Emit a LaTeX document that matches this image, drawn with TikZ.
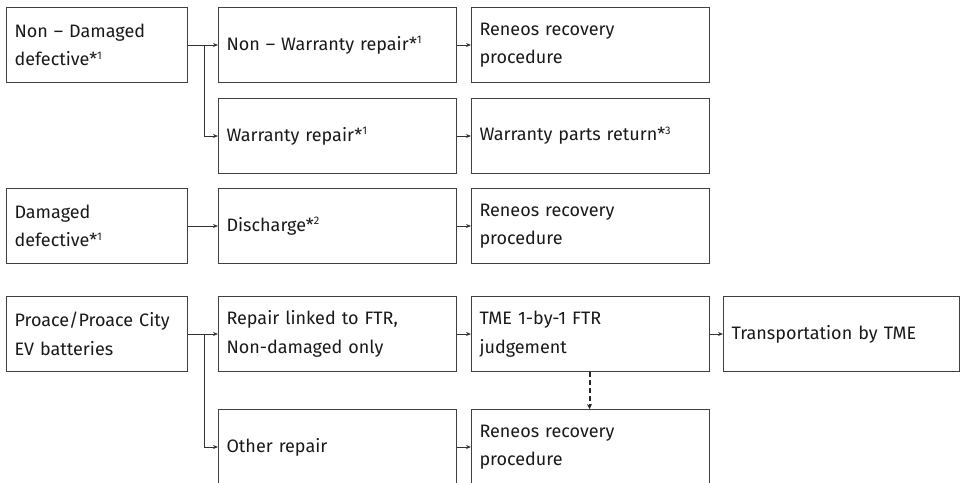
\documentclass[tikz,border=0pt]{standalone}
\usepackage{fontspec}
\setmainfont[WordSpace=0.8]{Fira Sans}
\usetikzlibrary{arrows.meta}
\newcommand{\sps}[1]{\raisebox{0.35em}{\fontsize{11}{11}\selectfont #1}}
\begin{document}
\begin{tikzpicture}[x=1pt,y=-1pt,
  box/.style={draw=black!75, line width=1pt, anchor=north west, minimum height=75pt,
    inner xsep=8pt, inner ysep=0pt, align=left, text=black!90,
    font=\fontsize{18}{28.5}\selectfont},
  bs/.style={box, text width=165pt},
  bm/.style={box, text width=222pt},
  bl/.style={box, text width=220pt},
  arr/.style={draw=black!80, line width=0.9pt, -{Stealth[length=5pt,width=4pt]}},
  darr/.style={draw=black!85, line width=2pt, dash pattern=on 5pt off 3pt, -{Stealth[length=5pt,width=5pt]}}]
\useasboundingbox (0,0) rectangle (966,482);
% row 1
\node[bs] (A) at (6,7) {Non -- Damaged\\defective*\sps{1}};
\node[bm] (B) at (218,7) {Non -- Warranty repair*\sps{1}};
\node[bm] (D) at (471,7) {Reneos recovery\\procedure};
\node[bm] (C) at (218,98) {Warranty repair*\sps{1}};
\node[bm] (E) at (471,98) {Warranty parts return*\sps{3}};
% row 2
\node[bs] (F) at (6,188) {Damaged\\defective*\sps{1}};
\node[bm] (G) at (218,188) {Discharge*\sps{2}};
\node[bm] (H2) at (471,188) {Reneos recovery\\procedure};
% row 3
\node[bs] (H) at (6,296) {Proace/Proace City\\EV batteries};
\node[bm] (I) at (218,296) {Repair linked to FTR,\\Non-damaged only};
\node[bm] (K) at (471,296) {TME 1-by-1 FTR\\judgement};
\node[bl] (L) at (723,296) {Transportation by TME};
\node[bm] (J) at (218,409) {Other repair};
\node[bm] (M) at (471,409) {Reneos recovery\\procedure};
% connectors
\draw[arr] (A.east) -- (B.west);
\draw[arr] (A.east) -- ([xshift=16pt]A.east) |- (C.west);
\draw[arr] (B.east) -- (D.west);
\draw[arr] (C.east) -- (E.west);
\draw[arr] (F.east) -- (G.west);
\draw[arr] (G.east) -- (H2.west);
\draw[arr] (H.east) -- (I.west);
\draw[arr] (H.east) -- ([xshift=16pt]H.east) |- (J.west);
\draw[arr] (I.east) -- (K.west);
\draw[arr] (K.east) -- (L.west);
\draw[arr] (J.east) -- (M.west);
\draw[darr] ([xshift=-1pt]K.south) -- ([xshift=-1pt]M.north);
\end{tikzpicture}
\end{document}
